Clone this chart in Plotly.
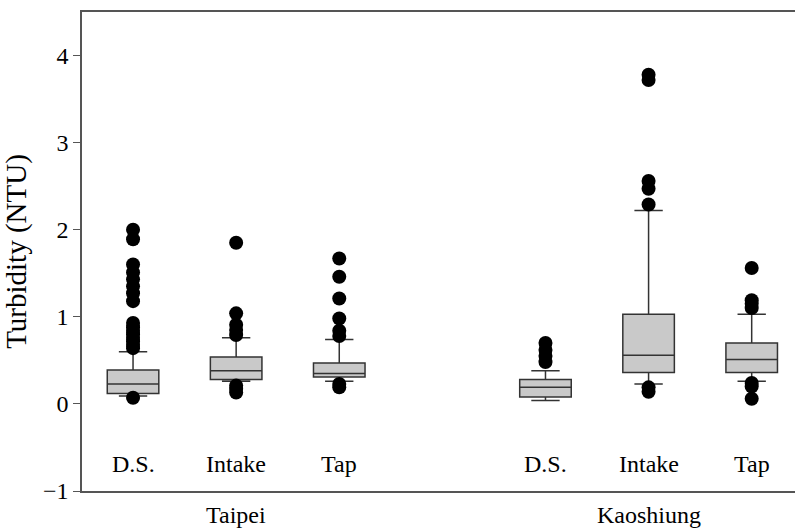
import plotly.graph_objects as go

# Sampling sites, grouped by city
sites = ["D.S.", "Intake", "Tap", "D.S.", "Intake", "Tap"]
positions = [0, 1, 2, 4, 5, 6]
cities = ["Taipei", "Kaoshiung"]
city_positions = [1, 5]

# Box statistics (NTU)
q1 = [0.12, 0.28, 0.31, 0.08, 0.36, 0.36]
median = [0.23, 0.38, 0.35, 0.19, 0.56, 0.51]
q3 = [0.39, 0.54, 0.47, 0.28, 1.03, 0.70]
lower_fence = [0.09, 0.26, 0.26, 0.04, 0.23, 0.26]
upper_fence = [0.60, 0.76, 0.74, 0.38, 2.22, 1.03]

# Outliers for each site
outliers = [
    [0.07, 0.64, 0.68, 0.72, 0.76, 0.80, 0.84, 0.88, 0.93,
     1.18, 1.27, 1.35, 1.43, 1.51, 1.60, 1.89, 2.00],
    [0.13, 0.17, 0.21, 0.79, 0.85, 0.91, 1.04, 1.85],
    [0.19, 0.23, 0.78, 0.84, 0.98, 1.21, 1.46, 1.67],
    [0.48, 0.55, 0.62, 0.70],
    [0.14, 0.19, 2.29, 2.47, 2.56, 3.72, 3.78],
    [0.06, 0.20, 0.24, 1.10, 1.15, 1.19, 1.56],
]

y_ticks = [-1, 0, 1, 2, 3, 4]

FONT = "Liberation Serif"

fig = go.Figure()

fig.add_trace(go.Box(
    x=positions,
    q1=q1, median=median, q3=q3,
    lowerfence=lower_fence, upperfence=upper_fence,
    width=0.5,
    whiskerwidth=0.55,
    fillcolor="#c9c9c9",
    line=dict(color="#333333", width=1.5),
    boxpoints=False,
    showlegend=False,
))

ox, oy = [], []
for p, vals in zip(positions, outliers):
    ox += [p] * len(vals)
    oy += vals
fig.add_trace(go.Scatter(
    x=ox, y=oy, mode="markers",
    marker=dict(color="black", size=14, line=dict(width=0)),
    showlegend=False, cliponaxis=False,
))

annotations = []
for p, s in zip(positions, sites):
    annotations.append(dict(x=p, y=-0.69, xref="x", yref="y", text=s,
                            showarrow=False, font=dict(family=FONT, size=24, color="black")))
for p, c in zip(city_positions, cities):
    annotations.append(dict(x=p, y=-0.0793, xref="x", yref="paper", yanchor="bottom",
                            text=c, showarrow=False, borderpad=0,
                            font=dict(family=FONT, size=24, color="black")))

fig.update_layout(
    width=795, height=529,
    margin=dict(l=82, r=0, t=12, b=38, pad=0),
    paper_bgcolor="white", plot_bgcolor="white",
    font=dict(family=FONT, size=24, color="black"),
    annotations=annotations,
    xaxis=dict(range=[-0.495, 6.42], showticklabels=False, ticks="",
               showgrid=False, zeroline=False,
               showline=True, linecolor="#555555", linewidth=1.5, mirror=True),
    yaxis=dict(range=[-1, 4.5], tickvals=y_ticks, ticks="outside", ticklen=7,
               tickcolor="#555555", tickwidth=1.2,
               showgrid=False, zeroline=False,
               showline=True, linecolor="#555555", linewidth=1.5,
               title=dict(text="Turbidity (NTU)",
                          font=dict(family=FONT, size=29, color="black"), standoff=12),
               tickfont=dict(family=FONT, size=24, color="black")),
)

fig.write_html("out.html")
